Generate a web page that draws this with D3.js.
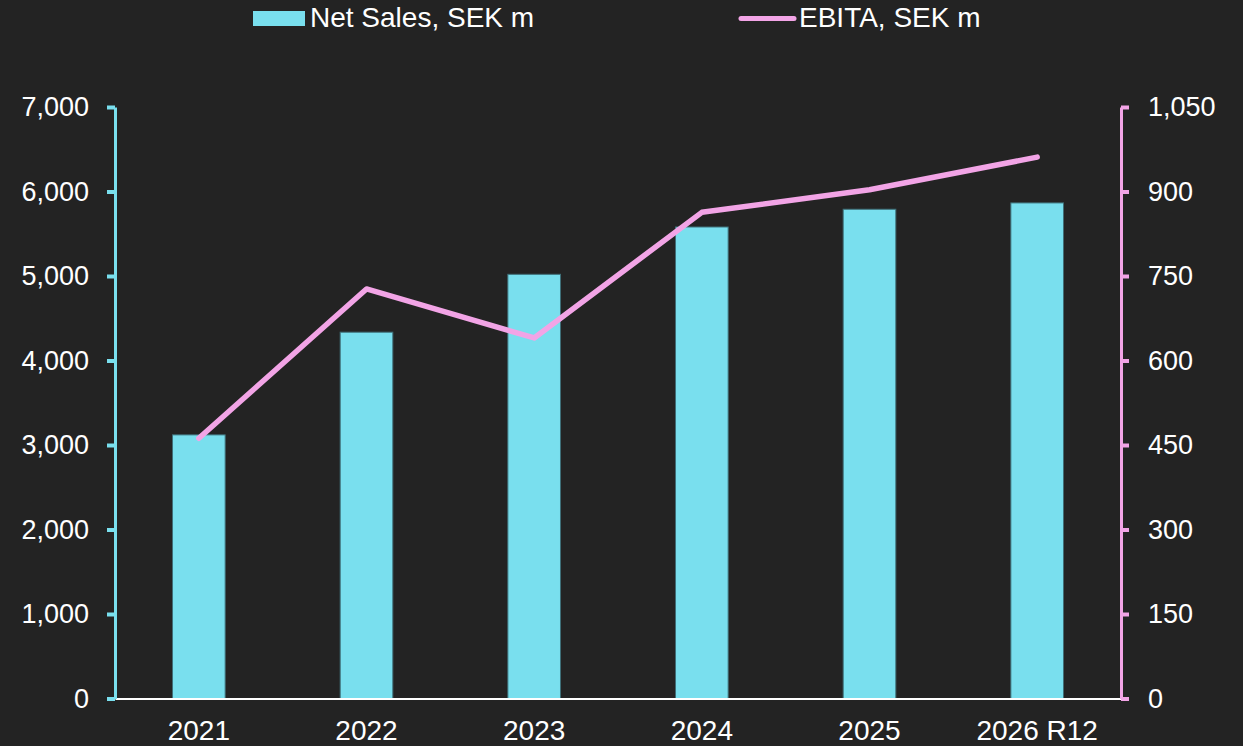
<!DOCTYPE html>
<html>
<head>
<meta charset="utf-8">
<script src="https://cdn.jsdelivr.net/npm/d3@7"></script>
<style>
  html, body { margin: 0; padding: 0; background: #232323; }
  svg { display: block; font-family: "Liberation Sans", Arial, sans-serif; }
  .tick text { fill: #ffffff; }
</style>
</head>
<body>
<svg id="chart" width="1243" height="746"></svg>
<script>
// Chart data
const years = ['2021', '2022', '2023', '2024', '2025', '2026 R12'];
const netSales = [3120, 4335, 5020, 5580, 5790, 5865];
const ebita = [462, 727, 640, 863, 903, 961];
const salesTicks = [0, 1000, 2000, 3000, 4000, 5000, 6000, 7000];
const ebitaTicks = [0, 150, 300, 450, 600, 750, 900, 1050];
const legendLabels = ['Net Sales, SEK m', 'EBITA, SEK m'];

const CYAN = '#79dfee';
const PINK = '#f2a4e6';
const FONT = '"Liberation Sans", Arial, sans-serif';

const svg = d3.select('#chart');
svg.append('rect').attr('width', 1243).attr('height', 746).attr('fill', '#232323');

const dims = { left: 115, right: 1121, top: 107, bottom: 698.5 };

// Scales
const xScale = d3.scaleBand()
  .domain(years)
  .range([dims.left, dims.right])
  .paddingInner(0.686)
  .paddingOuter(0.343);

const ySales = d3.scaleLinear().domain([0, 7000]).range([dims.bottom, dims.top]);
const yEbita = d3.scaleLinear().domain([0, 1050]).range([dims.bottom, dims.top]);

// Bars
svg.append('g')
  .attr('class', 'bars')
  .selectAll('rect')
  .data(years)
  .join('rect')
  .attr('x', (d) => xScale(d))
  .attr('width', xScale.bandwidth())
  .attr('y', (d, i) => ySales(netSales[i]))
  .attr('height', (d, i) => ySales(0) - ySales(netSales[i]))
  .attr('fill', CYAN)
  .attr('stroke', '#3f6f78')
  .attr('stroke-width', 1);

// Bottom axis (white baseline + labels)
const xAxisG = svg.append('g')
  .attr('transform', `translate(0,${dims.bottom})`)
  .call(d3.axisBottom(xScale).tickSize(0).tickPadding(21.5));
xAxisG.select('.domain').attr('stroke', '#ffffff').attr('stroke-width', 2);
xAxisG.selectAll('text').attr('font-size', 28).attr('font-family', FONT);

// EBITA line
const lineGen = d3.line()
  .x((d, i) => xScale(years[i]) + xScale.bandwidth() / 2)
  .y((d) => yEbita(d));

svg.append('path')
  .datum(ebita)
  .attr('d', lineGen)
  .attr('fill', 'none')
  .attr('stroke', PINK)
  .attr('stroke-width', 5.5)
  .attr('stroke-linecap', 'round')
  .attr('stroke-linejoin', 'round');

// Left axis
const leftG = svg.append('g')
  .attr('transform', `translate(${dims.left},0)`)
  .call(d3.axisLeft(ySales)
    .tickValues(salesTicks)
    .tickSize(8)
    .tickSizeOuter(0)
    .tickPadding(18)
    .tickFormat(d3.format(',')));
leftG.select('.domain').attr('stroke', CYAN).attr('stroke-width', 3);
leftG.selectAll('.tick line').attr('stroke', CYAN).attr('stroke-width', 4);
leftG.selectAll('text').attr('font-size', 27).attr('font-family', FONT);

// Right axis
const rightG = svg.append('g')
  .attr('transform', `translate(${dims.right},0)`)
  .call(d3.axisRight(yEbita)
    .tickValues(ebitaTicks)
    .tickSize(8)
    .tickSizeOuter(0)
    .tickPadding(19)
    .tickFormat(d3.format(',')));
rightG.select('.domain').attr('stroke', PINK).attr('stroke-width', 3);
rightG.selectAll('.tick line').attr('stroke', PINK).attr('stroke-width', 4);
rightG.selectAll('text').attr('font-size', 27).attr('font-family', FONT);

// Legend
const legend = svg.append('g').attr('class', 'legend');
legend.append('rect')
  .attr('x', 253).attr('y', 11)
  .attr('width', 52).attr('height', 15)
  .attr('fill', CYAN);
legend.append('text')
  .attr('x', 310).attr('y', 27)
  .attr('fill', '#ffffff')
  .attr('font-size', 28)
  .text(legendLabels[0]);
legend.append('line')
  .attr('x1', 741).attr('x2', 794)
  .attr('y1', 18.5).attr('y2', 18.5)
  .attr('stroke', PINK)
  .attr('stroke-width', 5)
  .attr('stroke-linecap', 'round');
legend.append('text')
  .attr('x', 799).attr('y', 27)
  .attr('fill', '#ffffff')
  .attr('font-size', 28)
  .text(legendLabels[1]);
</script>
</body>
</html>
